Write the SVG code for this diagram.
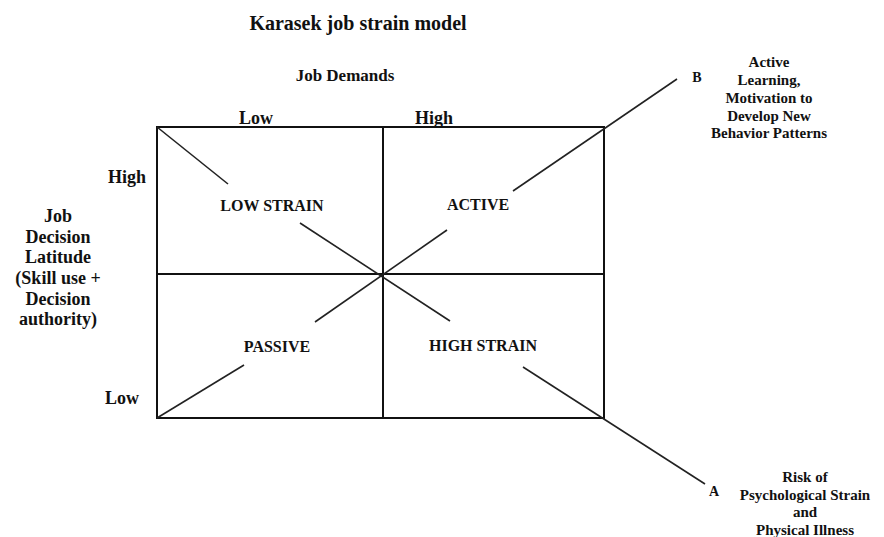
<svg xmlns="http://www.w3.org/2000/svg" width="884" height="537" viewBox="0 0 884 537">
<style>
text{font-family:"Liberation Serif","Times New Roman",serif;font-weight:bold;fill:#111;text-anchor:middle}
.box{fill:none;stroke:#111;stroke-width:2}
.ln{stroke:#222;stroke-width:1.6;fill:none}
</style>
<rect width="884" height="537" fill="#fff"/>
<text x="358" y="30" font-size="20">Karasek job strain model</text>
<g id="axis-demands">
<text x="345" y="81" font-size="17">Job Demands</text>
<text x="256" y="124" font-size="18">Low</text>
<text x="434" y="124" font-size="18">High</text>
</g>
<g id="axis-latitude">
<text x="127" y="183" font-size="18">High</text>
<text x="122" y="404" font-size="18">Low</text>
<text x="58" y="222" font-size="18">Job</text>
<text x="58" y="243" font-size="18">Decision</text>
<text x="58" y="263" font-size="18">Latitude</text>
<text x="58" y="284" font-size="18">(Skill use +</text>
<text x="58" y="305" font-size="18">Decision</text>
<text x="58" y="325" font-size="18">authority)</text>
</g>
<g id="grid">
<rect class="box" x="157" y="127" width="447" height="291"/>
<line class="box" x1="383" y1="127" x2="383" y2="418"/>
<line class="box" x1="157" y1="274" x2="604" y2="274"/>
</g>
<g id="connectors">
<line class="ln" x1="157" y1="127" x2="228" y2="184"/>
<line class="ln" x1="300" y1="223" x2="450" y2="321"/>
<line class="ln" x1="523" y1="367" x2="705" y2="484"/>
<line class="ln" x1="157" y1="418" x2="244" y2="365"/>
<line class="ln" x1="315" y1="322" x2="447" y2="230"/>
<line class="ln" x1="513" y1="191" x2="677" y2="79"/>
</g>
<g id="low-strain"><text x="272" y="211" font-size="16">LOW STRAIN</text></g>
<g id="active"><text x="478" y="210" font-size="16">ACTIVE</text></g>
<g id="passive"><text x="277" y="352" font-size="16">PASSIVE</text></g>
<g id="high-strain"><text x="483" y="351" font-size="16">HIGH STRAIN</text></g>
<g id="B">
<text x="697" y="82" font-size="14">B</text>
<text x="769" y="67" font-size="15">Active</text>
<text x="769" y="85" font-size="15">Learning,</text>
<text x="769" y="103" font-size="15">Motivation to</text>
<text x="769" y="121" font-size="15">Develop New</text>
<text x="769" y="138" font-size="15">Behavior Patterns</text>
</g>
<g id="A">
<text x="714" y="496" font-size="14">A</text>
<text x="805" y="482" font-size="15">Risk of</text>
<text x="805" y="500" font-size="15">Psychological Strain</text>
<text x="805" y="517" font-size="15">and</text>
<text x="805" y="535" font-size="15">Physical Illness</text>
</g>
</svg>
